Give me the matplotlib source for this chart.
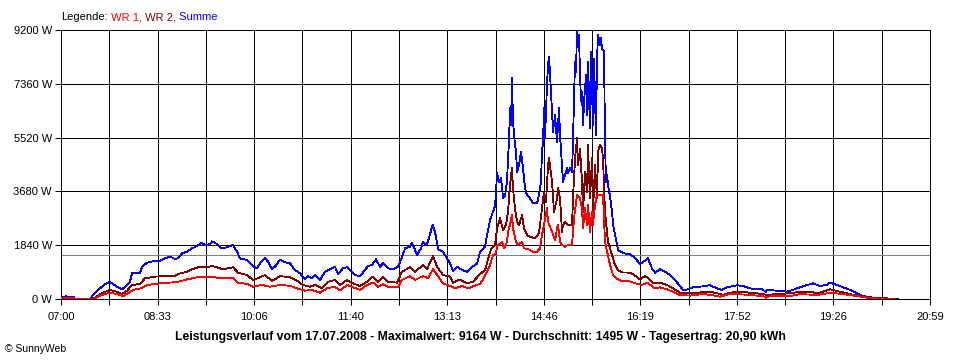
import matplotlib
matplotlib.use("Agg")
import matplotlib.pyplot as plt

plt.rcParams['font.family'] = ['Liberation Sans', 'DejaVu Sans']

# ---------------- data (time = minutes after 07:00, power in W) ----------------
tick_labels = ["07:00", "08:33", "10:06", "11:40", "13:13",
               "14:46", "16:19", "17:52", "19:26", "20:59"]
y_ticks = [0, 1840, 3680, 5520, 7360, 9200]
day_span_min = 839

datum = "17.07.2008"
maximalwert = 9164
durchschnitt = 1495
tagesertrag = "20,90"

wr1_t = [0, 4.8, 8.7, 12.6, 13.5, 32.8, 35.7, 42.5, 47.3, 54.1,
         59.9, 64.7, 69.5, 78.2, 83.0, 95.6, 105.2, 112.0, 121.7, 131.3,
         143.9, 145.8, 153.5, 166.1, 170.9, 179.6, 185.4, 194.1, 201.8, 211.4,
         221.1, 227.9, 235.6, 242.3, 250.1, 256.8, 264.5, 269.4, 276.1, 281.9,
         288.7, 295.4, 301.2, 306.1, 310.9, 315.7, 325.4, 329.2, 337.0, 341.8,
         349.5, 354.3, 359.2, 364.0, 368.8, 375.6, 380.4, 387.2, 393.0, 401.6,
         404.5, 407.4, 414.2, 417.1, 420.0, 421.0, 422.9, 425.8, 427.7, 430.6,
         431.6, 433.5, 435.4, 436.4, 439.3, 441.2, 445.1, 447.0, 450.9, 455.7,
         459.6, 462.5, 464.4, 466.3, 469.2, 470.2, 474.1, 477.0, 478.9, 479.9,
         481.8, 483.7, 486.6, 489.5, 493.4, 495.3, 498.2, 501.1, 503.0, 504.0,
         505.9, 507.9, 508.8, 510.7, 512.7, 513.6, 515.6, 517.5, 523.3, 525.2,
         527.2, 530.1, 533.0, 536.8, 541.6, 549.4, 554.2, 561.0, 565.8, 570.6,
         573.5, 578.3, 585.1, 590.9, 597.6, 607.3, 619.9, 628.5, 636.3, 645.9,
         658.5, 672.0, 679.7, 680.7, 681.6, 691.3, 703.8, 713.5, 729.9, 742.5,
         755.0, 768.5, 781.1, 793.6, 803.3]
wr1 = [40, 50, 40, 30, 0, 0, 80, 170, 215, 170,
       100, 195, 310, 375, 480, 535, 560, 580, 670, 740,
       740, 765, 710, 710, 560, 513, 420, 480, 420, 480,
       450, 365, 285, 310, 215, 365, 420, 285, 480, 400,
       310, 480, 560, 420, 513, 420, 400, 650, 785, 650,
       785, 710, 1015, 785, 535, 445, 365, 445, 365, 480,
       520, 650, 1160, 1500, 1560, 1800, 1870, 1950, 1730, 1950,
       2300, 2530, 2870, 2420, 1950, 1850, 1950, 1730, 1710, 1620,
       1620, 1730, 2190, 2530, 3100, 2640, 2300, 2000, 2420, 2530,
       1960, 1850, 1790, 1850, 1850, 2760, 3560, 3440, 3100, 2420,
       3100, 2530, 3220, 2300, 2985, 2530, 3220, 3560, 3560, 1960,
       1620, 1160, 820, 685, 615, 600, 540, 480, 560, 445,
       365, 400, 330, 250, 135, 115, 170, 135, 80, 170,
       155, 115, 80, 0, 80, 100, 100, 170, 135, 215,
       170, 100, 30, 15, 0]

wr2_t = [0, 4.8, 8.7, 12.6, 13.5, 30.9, 34.8, 40.6, 47.3, 54.1,
         58.9, 63.7, 68.6, 76.3, 81.1, 90.8, 100.4, 110.1, 113.0, 121.7,
         126.5, 134.2, 141.0, 145.8, 150.6, 156.4, 166.1, 170.9, 179.6, 185.4,
         192.1, 197.0, 203.7, 211.4, 221.1, 227.9, 233.7, 240.4, 245.2, 252.0,
         257.8, 264.5, 269.4, 276.1, 281.9, 288.7, 295.4, 301.2, 306.1, 310.9,
         315.7, 324.4, 329.2, 337.0, 341.8, 349.5, 353.4, 359.2, 363.0, 368.8,
         375.6, 378.5, 385.2, 392.0, 397.8, 404.5, 409.4, 414.2, 416.1, 419.0,
         421.0, 423.9, 426.8, 429.6, 431.6, 433.5, 435.4, 436.4, 438.3, 440.3,
         442.2, 445.1, 447.0, 449.9, 452.8, 457.6, 461.5, 464.4, 466.3, 468.3,
         470.2, 471.2, 474.1, 476.0, 478.9, 479.9, 481.8, 483.7, 484.7, 486.6,
         489.5, 493.4, 494.3, 496.3, 498.2, 499.2, 501.1, 503.0, 504.0, 505.9,
         507.9, 508.8, 510.7, 512.7, 513.6, 515.6, 517.5, 518.5, 520.4, 522.3,
         523.3, 525.2, 527.2, 528.1, 532.0, 534.9, 537.8, 541.6, 549.4, 554.2,
         559.0, 563.9, 566.7, 571.6, 578.3, 585.1, 590.9, 597.6, 607.3, 614.0,
         626.6, 633.4, 639.2, 645.9, 655.6, 665.2, 677.8, 681.6, 691.3, 703.8,
         713.5, 723.1, 729.9, 735.7, 742.5, 752.1, 761.8, 771.4, 781.1, 793.6,
         807.2]
wr2 = [40, 40, 30, 30, 0, 0, 100, 215, 310, 250,
       170, 285, 480, 513, 710, 765, 785, 785, 855, 935,
       1015, 1105, 1085, 1130, 1085, 1015, 1085, 900, 820, 650,
       740, 820, 615, 785, 740, 625, 480, 420, 480, 365,
       590, 650, 480, 650, 535, 445, 590, 765, 590, 740,
       590, 560, 935, 1085, 935, 1160, 1015, 1470, 1105, 820,
       765, 560, 670, 535, 590, 850, 990, 1600, 1755, 1850,
       2420, 2760, 2360, 2530, 2985, 3900, 4470, 3790, 3100, 2640,
       2530, 2870, 2420, 2190, 2130, 2075, 2250, 3100, 3670, 3330,
       4580, 4810, 4010, 2985, 3440, 3790, 3440, 2300, 2530, 2640,
       2530, 2530, 3440, 4810, 5500, 4580, 5150, 4010, 2985, 4350,
       3670, 5270, 3440, 4810, 2985, 4580, 3440, 5040, 5270, 5150,
       4810, 2985, 2300, 1960, 1500, 1160, 990, 910, 900, 800,
       670, 785, 730, 560, 560, 480, 365, 215, 195, 215,
       250, 195, 140, 215, 250, 215, 170, 140, 170, 195,
       250, 250, 195, 250, 330, 250, 170, 100, 45, 30,
       0]

summe_t = [0, 4.8, 8.7, 12.6, 13.5, 28.0, 32.8, 37.7, 42.5, 47.3,
           50.2, 54.1, 58.9, 61.8, 66.6, 68.6, 76.3, 78.2, 83.0, 90.8,
           95.6, 100.4, 105.2, 110.1, 113.0, 116.8, 121.7, 126.5, 131.3, 136.1,
           139.0, 143.9, 145.8, 150.6, 155.4, 160.3, 166.1, 169.9, 172.8, 179.6,
           185.4, 189.2, 192.1, 197.0, 199.9, 203.7, 206.6, 211.4, 216.3, 221.1,
           225.9, 230.8, 235.6, 238.5, 242.3, 245.2, 250.1, 254.9, 259.7, 264.5,
           267.4, 272.3, 276.1, 279.0, 283.9, 288.7, 293.5, 296.4, 300.3, 304.1,
           308.0, 310.9, 315.7, 320.5, 325.4, 329.2, 332.1, 337.0, 338.9, 341.8,
           343.7, 347.6, 349.5, 352.4, 354.3, 358.2, 359.2, 362.1, 364.0, 368.8,
           372.7, 375.6, 378.5, 382.3, 387.2, 392.0, 396.8, 401.6, 404.5, 409.4,
           412.3, 414.2, 417.1, 419.0, 420.0, 421.0, 422.9, 424.8, 425.8, 426.8,
           428.7, 430.6, 431.6, 432.5, 433.5, 434.5, 435.4, 436.4, 438.3, 439.3,
           440.3, 442.2, 444.1, 446.1, 448.0, 449.9, 452.8, 455.7, 459.6, 461.5,
           463.4, 464.4, 465.4, 466.3, 467.3, 469.2, 470.2, 471.2, 473.1, 474.1,
           475.0, 477.0, 478.9, 479.9, 480.8, 481.8, 483.7, 484.7, 486.6, 488.5,
           489.5, 491.4, 493.4, 494.3, 495.3, 496.3, 497.2, 498.2, 499.2, 500.1,
           501.1, 502.1, 503.0, 504.0, 505.0, 506.9, 507.9, 508.8, 510.7, 511.7,
           512.7, 513.6, 514.6, 515.6, 516.5, 517.5, 518.5, 520.4, 521.4, 522.3,
           524.3, 525.2, 526.2, 527.2, 528.1, 530.1, 532.0, 533.0, 534.9, 536.8,
           537.8, 541.6, 546.5, 549.4, 554.2, 559.0, 563.9, 566.7, 570.6, 573.5,
           578.3, 583.1, 588.0, 592.8, 597.6, 600.5, 605.4, 610.2, 617.0, 626.6,
           633.4, 638.2, 643.0, 652.7, 658.5, 665.2, 672.0, 676.8, 680.7, 681.6,
           691.3, 701.0, 706.7, 713.5, 720.3, 726.1, 732.8, 739.6, 742.5, 749.2,
           755.0, 761.8, 768.5, 774.3, 784.0, 793.6, 803.3, 808.1]
summe = [80, 90, 70, 60, 0, 0, 215, 365, 513, 581,
         513, 420, 330, 420, 590, 880, 890, 1105, 1240, 1310,
         1310, 1390, 1450, 1370, 1390, 1560, 1620, 1730, 1810, 1925,
         1840, 1880, 1970, 1880, 1730, 1770, 1850, 1620, 1390, 1335,
         1130, 1050, 1220, 1410, 1275, 1025, 1105, 1335, 1255, 1220,
         990, 880, 670, 785, 710, 820, 650, 935, 1015, 1105,
         855, 1050, 1085, 990, 820, 785, 990, 1130, 1160, 1355,
         1105, 1220, 1050, 1015, 1105, 1425, 1730, 1790, 1925, 1675,
         1505, 1730, 1960, 1850, 1960, 2470, 2530, 2130, 1700, 1620,
         1390, 1220, 970, 1100, 990, 935, 1105, 1200, 1600, 1800,
         2360, 2700, 2985, 3160, 3670, 4300, 4010, 4130, 3790, 3460,
         3530, 4010, 4810, 5380, 6520, 5950, 7550, 6065, 5270, 5040,
         4350, 4580, 5040, 4470, 3790, 3560, 3440, 3270, 3270, 3560,
         4010, 5040, 5380, 6520, 5500, 7320, 8000, 8290, 7090, 6400,
         5720, 6290, 5380, 5950, 6520, 5610, 4580, 4010, 4240, 4470,
         4300, 4470, 4350, 5380, 6860, 8120, 7770, 9164, 8690, 9030,
         7660, 6750, 7090, 5950, 6750, 7660, 6290, 8120, 5840, 8460,
         7090, 5950, 8230, 6860, 5610, 8230, 9030, 8690, 8920, 8570,
         8460, 5380, 4010, 4240, 3900, 3500, 2985, 2530, 2190, 1850,
         1675, 1595, 1530, 1540, 1400, 1200, 1310, 1390, 1050, 900,
         1015, 935, 820, 650, 445, 310, 330, 400, 420, 470,
         365, 310, 400, 470, 445, 365, 330, 330, 250, 310,
         285, 250, 310, 400, 480, 535, 445, 480, 560, 480,
         400, 310, 195, 100, 45, 30, 5, 0]

legend_parts = [("Legende:", "black"), (" WR 1,", "#ff0000"),
                (" WR 2,", "#800000"), (" Summe", "#0000ff")]

# ---------------- figure ----------------
W, H = 960, 360
fig = plt.figure(figsize=(W / 100, H / 100), dpi=100)
fig.patch.set_facecolor("white")
ax = fig.add_axes([61 / W, 1 - 299 / H, (930 - 61) / W, (299 - 30) / H])
px = 0.72
dlw = 0.6

ax.plot(summe_t, summe, color="#0000ff", lw=dlw, antialiased=False, zorder=3)
ax.plot(wr2_t, wr2, color="#800000", lw=dlw, antialiased=False, zorder=4)
ax.plot(wr1_t, wr1, color="#ff0000", lw=dlw, antialiased=False, zorder=5)
ax.axhline(durchschnitt, color="#808080", lw=px, antialiased=False, zorder=2)

ax.set_xlim(0, day_span_min)
ax.set_ylim(0, y_ticks[-1])
n_half = 2 * (len(tick_labels) - 1)
xt = [i * day_span_min / n_half for i in range(n_half + 1)]
ax.set_xticks(xt)
ax.set_xticklabels([tick_labels[i // 2] if i % 2 == 0 else "" for i in range(n_half + 1)])
ax.set_yticks(y_ticks)
ax.set_yticklabels([f"{v} W" for v in y_ticks])
ax.tick_params(axis="x", direction="out", length=4.5, width=px, pad=5,
               labelsize=8, colors="black")
ax.tick_params(axis="y", direction="out", length=4.5, width=px, pad=2,
               labelsize=8, colors="black")
ax.grid(True, color="black", lw=px, antialiased=False, zorder=1)
ax.set_axisbelow(True)
for s in ax.spines.values():
    s.set_color("black")
    s.set_linewidth(px)
    s.set_antialiased(False)

# bottom title and footer
fig.text(480 / W, 1 - 337 / H,
         f"Leistungsverlauf vom {datum} - Maximalwert: {maximalwert} W - "
         f"Durchschnitt: {durchschnitt} W - Tagesertrag: {tagesertrag} kWh",
         ha="center", va="center", fontsize=8.8, fontweight="bold")
fig.text(5 / W, 1 - 349 / H, "\u00a9 SunnyWeb", ha="left", va="center", fontsize=7.5)

# multi-coloured legend line
fig.canvas.draw()
r = fig.canvas.get_renderer()

def text_width(s):
    t = fig.text(0, 0, s, fontsize=8)
    w = t.get_window_extent(renderer=r).width
    t.remove()
    return w

x0 = 61
joined = ""
for s, c in legend_parts:
    joined += s
    off = text_width(joined) - text_width(s)
    fig.text((x0 + off) / W, 1 - 17 / H, s, color=c, fontsize=8,
             ha="left", va="center")

fig.savefig("out.png", dpi=100, facecolor="white")
